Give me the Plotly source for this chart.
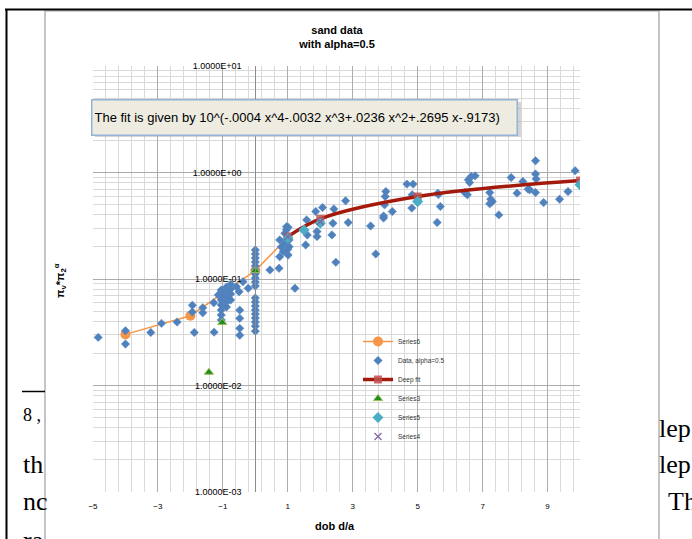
import plotly.graph_objects as go

# ---------------- data ----------------
data_x = [-4.84, -4.0, -4.0, -3.22, -2.89, -2.41, -1.94, -1.94, -1.88, -1.62, -1.62, -1.28, -1.27,
          -1.14, -1.05, -1.05, -1.05, -1.05, -1.05, -1.05, -1.05,
          -0.89, -0.89, -0.89, -0.89, -0.89, -0.76, -0.76, -0.76, -0.76,
          -0.58, -0.5, -0.48, -0.48, -0.48, -0.48, -0.38, -0.22,
          0.0, 0.0, 0.0, 0.0, 0.0, 0.0, 0.0, 0.0, 0.0, 0.0,
          0.0, 0.0, 0.0, 0.0, 0.0, 0.0, 0.0, 0.0, 0.0,
          0.45, 0.73, 1.22, 0.75, 0.91, 1.01, 1.04, 1.04, 1.01, 0.75, 0.86, 0.96, 0.96, 0.8, 0.9, 1.0,
          1.58, 1.6, 1.55, 1.86, 2.07, 1.9, 1.9, 2.42, 2.39, 2.36, 2.48, 2.78, 2.86, 3.55, 3.71,
          4.02, 4.0, 3.98, 3.95, 3.95, 4.22,
          4.67, 4.86, 4.83, 4.82, 5.62, 5.64, 5.7, 5.6, 6.45, 6.53, 6.56, 6.65, 6.77, 6.6,
          7.22, 7.25, 7.22, 7.3, 7.5, 7.88, 8.06, 8.24, 8.4, 8.45, 8.63, 8.63, 8.65, 8.63,
          8.88, 9.37, 9.63, 9.85, 10.0]
data_y = [0.0283, 0.0327, 0.0245, 0.0315, 0.0383, 0.0394, 0.0566, 0.049, 0.0315, 0.0537, 0.0482, 0.0598, 0.0317,
          0.0708, 0.0788, 0.0708, 0.0636, 0.0571, 0.0511, 0.0459, 0.0413,
          0.0839, 0.0753, 0.0677, 0.0608, 0.0546, 0.0895, 0.0804, 0.0723, 0.0636,
          0.0847, 0.076, 0.051, 0.0427, 0.0344, 0.0297, 0.0944, 0.0818,
          0.1875, 0.1718, 0.1576, 0.1445, 0.1325, 0.1215, 0.1114, 0.1022, 0.0937, 0.0859,
          0.0663, 0.0608, 0.0557, 0.0511, 0.0469, 0.043, 0.0394, 0.0361, 0.0324,
          0.1216, 0.126, 0.0818, 0.233, 0.269, 0.306, 0.233, 0.201, 0.168, 0.162, 0.181, 0.31, 0.29, 0.2, 0.215, 0.19,
          0.359, 0.259, 0.209, 0.43, 0.469, 0.279, 0.25, 0.455, 0.334, 0.259, 0.1436, 0.542, 0.339, 0.315, 0.172,
          0.663, 0.595, 0.497, 0.39, 0.374, 0.43,
          0.778, 0.778, 0.617, 0.463, 0.64, 0.62, 0.479, 0.339, 0.648, 0.617, 0.854, 0.917, 0.93, 0.805,
          0.648, 0.562, 0.508, 0.533, 0.4, 0.897, 0.64, 0.823, 0.698, 0.69, 1.29, 0.966, 0.867, 0.648,
          0.522, 0.562, 0.662, 1.04, 0.76]

s6_x = [-4, -2, 0, 1]
s6_y = [0.0302, 0.0452, 0.12, 0.245]

fit_x = [1, 2, 5, 10]
fit_y = [0.25, 0.367, 0.595, 0.84]

s3_x = [-1.43, -1.02, 0.0]
s3_y = [0.0133, 0.039, 0.12]

s5_x = [1, 1.5, 2, 5, 10]
s5_y = [0.241, 0.289, 0.334, 0.533, 0.766]

s4_x = [1, 2]
s4_y = [0.25, 0.345]

y_tickvals = [0.001, 0.01, 0.1, 1, 10]
y_ticktext = ["1.0000E-03", "1.0000E-02", "1.0000E-01", "1.0000E+00", "1.0000E+01"]

fit_text = "The fit is given by 10^(-.0004 x^4-.0032 x^3+.0236 x^2+.2695 x-.9173)"

# ---------------- layout helpers (pixel -> paper) ----------------
L, R, T, B = 93, 580, 66, 492
def px(x):
    return (x - L) / (R - L)
def py(y):
    return (B - y) / (B - T)

FONT = "Liberation Sans"
SERIF = "Liberation Serif"

fig = go.Figure()
fig.add_trace(go.Scatter(x=s6_x, y=s6_y, name="Series6", mode="lines+markers",
                         line=dict(color="#F79646", width=1.5),
                         marker=dict(symbol="circle", size=10, color="#F79646")))
fig.add_trace(go.Scatter(x=data_x, y=data_y, name="Data, alpha=0.5", mode="markers",
                         marker=dict(symbol="diamond", size=6.5, color="#4F81BD",
                                     line=dict(color="#5B8AC4", width=0.5))))
fig.add_trace(go.Scatter(x=fit_x, y=fit_y, name="Deep fit", mode="lines+markers",
                         line=dict(color="#A31A0C", width=3.5, shape="spline", smoothing=1),
                         marker=dict(symbol="square", size=8, color="rgba(192,80,77,0.85)")))
fig.add_trace(go.Scatter(x=s3_x, y=s3_y, name="Series3", mode="markers",
                         marker=dict(symbol="triangle-up", size=8, color="#1E8C1E",
                                     line=dict(color="#9BBB59", width=1))))
fig.add_trace(go.Scatter(x=s5_x, y=s5_y, name="Series5", mode="markers",
                         marker=dict(symbol="diamond", size=8.5, color="#4BACC6")))
fig.add_trace(go.Scatter(x=s4_x, y=s4_y, name="Series4", mode="markers",
                         marker=dict(symbol="x-thin", size=7, color="#8064A2",
                                     line=dict(color="#8064A2", width=1.2))))

shapes = [
    # textbox shadow
    dict(type="rect", xref="paper", yref="paper", x0=px(95), x1=px(521), y0=py(137), y1=py(102),
         fillcolor="rgba(160,160,160,0.45)", line=dict(width=0), layer="above"),
    # chart area border
    dict(type="rect", xref="paper", yref="paper", x0=px(45), x1=px(659), y0=py(560), y1=py(11),
         line=dict(color="#A0A0A0", width=1.2), fillcolor="rgba(0,0,0,0)", layer="below"),
    # page borders
    dict(type="line", xref="paper", yref="paper", x0=px(5), x1=px(700), y0=py(9.5), y1=py(9.5),
         line=dict(color="#000000", width=2)),
    dict(type="line", xref="paper", yref="paper", x0=px(6.5), x1=px(6.5), y0=py(9), y1=py(545),
         line=dict(color="#000000", width=2)),
    # footnote rule
    dict(type="line", xref="paper", yref="paper", x0=px(22), x1=px(45), y0=py(391.5), y1=py(391.5),
         line=dict(color="#000000", width=1.5)),
]

annotations = [
    dict(text=fit_text, xref="paper", yref="paper", x=px(91), y=py(99), xanchor="left", yanchor="top",
         showarrow=False, align="left", valign="middle", width=420, height=30, borderpad=2,
         bgcolor="#EEECE1", bordercolor="#95B3D7", borderwidth=1.5,
         font=dict(family=FONT, size=13, color="#000000")),
    dict(text="<b>dob d/a</b>", xref="paper", yref="paper", x=px(335), y=py(526),
         xanchor="center", yanchor="middle", showarrow=False,
         font=dict(family=FONT, size=11, color="#000000")),
    dict(text="<b>π<sub>v</sub>*π<sub>2</sub><sup>α</sup></b>", xref="paper", yref="paper",
         x=px(60), y=py(281), xanchor="center", yanchor="middle", textangle=-90, showarrow=False,
         font=dict(family=FONT, size=11, color="#000000")),
    # document text fragments around the chart
    dict(text="8 ,", xref="paper", yref="paper", x=px(21), y=py(415), xanchor="left", yanchor="middle",
         showarrow=False, font=dict(family=SERIF, size=18, color="#000000")),
    dict(text="th", xref="paper", yref="paper", x=px(21), y=py(464), xanchor="left", yanchor="middle",
         showarrow=False, font=dict(family=SERIF, size=26, color="#000000")),
    dict(text="nc", xref="paper", yref="paper", x=px(21), y=py(502), xanchor="left", yanchor="middle",
         showarrow=False, font=dict(family=SERIF, size=26, color="#000000")),
    dict(text="ra", xref="paper", yref="paper", x=px(21), y=py(540), xanchor="left", yanchor="middle",
         showarrow=False, font=dict(family=SERIF, size=26, color="#000000")),
    dict(text="lep", xref="paper", yref="paper", x=px(657), y=py(428), xanchor="left", yanchor="middle",
         showarrow=False, font=dict(family=SERIF, size=26, color="#000000")),
    dict(text="lep", xref="paper", yref="paper", x=px(657), y=py(464), xanchor="left", yanchor="middle",
         showarrow=False, font=dict(family=SERIF, size=26, color="#000000")),
    dict(text="Th", xref="paper", yref="paper", x=px(666), y=py(501), xanchor="left", yanchor="middle",
         showarrow=False, font=dict(family=SERIF, size=26, color="#000000")),
]

minor_y = [k * 10.0 ** d for d in range(-3, 1) for k in range(2, 10)]

fig.update_layout(
    width=692, height=539, autosize=False,
    margin=dict(l=L, r=692 - R, t=T, b=539 - B),
    paper_bgcolor="white", plot_bgcolor="white",
    font=dict(family=FONT, color="#000000"),
    title=dict(text="<b>sand data</b><br><b>with alpha=0.5</b>", x=px(337), xref="paper", xanchor="center",
               y=1 - 34 / 539, yref="container", yanchor="middle",
               font=dict(family=FONT, size=11, color="#000000")),
    xaxis=dict(range=[-5, 10], tick0=-5, dtick=2, showgrid=True, gridcolor="#ABABAB", gridwidth=1,
               minor=dict(tick0=-5, dtick=0.4, showgrid=True, gridcolor="#D9D9D9", gridwidth=1),
               zeroline=False, showline=False, ticks="", ticklabelstandoff=8,
               tickfont=dict(family=FONT, size=8, color="#000000")),
    yaxis=dict(type="log", range=[-3, 1], tickmode="array", tickvals=y_tickvals, ticktext=y_ticktext,
               showgrid=True, gridcolor="#ABABAB", gridwidth=1,
               minor=dict(tickmode="array", tickvals=minor_y, showgrid=True, gridcolor="#D9D9D9", gridwidth=1),
               anchor="free", position=1 / 3, showline=True, linecolor="#8C8C8C", linewidth=1,
               zeroline=False, ticks="", ticklabelstandoff=12,
               tickfont=dict(family=FONT, size=9, color="#000000")),
    legend=dict(x=px(358), y=py(327), xanchor="left", yanchor="top", bgcolor="rgba(0,0,0,0)",
                font=dict(family=FONT, size=6.5, color="#333333"), tracegroupgap=0, itemwidth=30),
    shapes=shapes,
    annotations=annotations,
    showlegend=True,
)

fig.write_html("out.html", config={"displayModeBar": False},
               post_script="document.body.style.margin='0px';document.body.style.overflow='hidden';")
